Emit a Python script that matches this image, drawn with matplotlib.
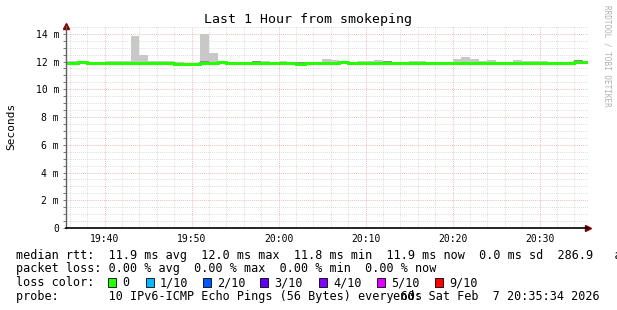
import numpy as np
import matplotlib
matplotlib.use("Agg")
import matplotlib.pyplot as plt
from matplotlib.patches import Rectangle

plt.rcParams['font.family'] = ['DejaVu Sans Mono']

# one bar per minute, 19:35 .. 20:35 (values in ms)
minutes = np.arange(19 * 60 + 35, 20 * 60 + 36)
median = [11.92, 11.93, 11.97, 11.90, 11.90, 11.90, 11.90, 11.90, 11.92, 11.92,
          11.92, 11.92, 11.90, 11.80, 11.85, 11.85, 11.92, 11.93, 11.95, 11.93,
          11.93, 11.92, 11.92, 11.93, 11.90, 11.92, 11.93, 11.85, 11.88, 11.90,
          11.92, 11.93, 11.95, 11.92, 11.90, 11.90, 11.92, 11.92, 11.93, 11.92,
          11.90, 11.92, 11.93, 11.92, 11.90, 11.90, 11.90, 11.92, 11.92, 11.92,
          11.93, 11.93, 11.92, 11.92, 11.90, 11.88, 11.90, 11.92, 11.93, 11.95,
          11.95]
smoke_hi = [12.07, 12.07, 12.00, 12.00, 11.95, 12.07, 12.07, 12.07, 13.85, 12.50,
            12.07, 12.07, 12.05, 11.95, 11.92, 11.92, 14.00, 12.60, 12.00, 11.98,
            11.98, 11.98, 12.07, 12.03, 11.98, 12.07, 11.98, 11.95, 11.98, 11.98,
            12.20, 12.13, 11.98, 11.98, 12.07, 12.07, 12.13, 12.07, 11.98, 11.98,
            12.07, 12.07, 11.98, 11.98, 12.00, 12.20, 12.36, 12.20, 12.07, 12.13,
            11.98, 11.98, 12.13, 12.07, 12.07, 12.05, 11.98, 11.98, 12.00, 12.13,
            12.00]
smoke_lo = [11.88, 11.88, 11.90, 11.85, 11.88, 11.82, 11.88, 11.88, 11.88, 11.88,
            11.88, 11.88, 11.85, 11.70, 11.75, 11.70, 11.88, 11.88, 11.90, 11.90,
            11.90, 11.88, 11.88, 11.88, 11.88, 11.88, 11.90, 11.80, 11.85, 11.85,
            11.88, 11.88, 11.90, 11.82, 11.82, 11.85, 11.88, 11.88, 11.90, 11.88,
            11.88, 11.88, 11.90, 11.88, 11.85, 11.85, 11.82, 11.88, 11.88, 11.88,
            11.90, 11.90, 11.88, 11.88, 11.88, 11.80, 11.72, 11.88, 11.88, 11.90,
            11.90]
dark_hi = [11.95, 11.95, 11.97, 11.92, 11.92, 11.92, 11.92, 11.92, 11.95, 11.95,
           11.95, 11.95, 12.00, 11.90, 11.88, 11.88, 12.07, 11.97, 11.97, 11.95,
           11.95, 11.95, 12.07, 11.95, 11.92, 11.95, 11.95, 11.97, 11.95, 11.95,
           11.95, 11.95, 11.97, 11.95, 11.95, 11.97, 11.95, 12.07, 11.95, 11.95,
           11.95, 11.95, 11.95, 11.95, 12.00, 11.95, 11.92, 11.95, 11.95, 11.95,
           11.95, 11.95, 11.95, 11.95, 11.92, 11.92, 11.92, 11.95, 11.95, 12.13,
           11.97]
dark_lo = [11.90, 11.90, 11.93, 11.87, 11.88, 11.82, 11.88, 11.88, 11.90, 11.90,
           11.90, 11.90, 11.85, 11.72, 11.80, 11.80, 11.90, 11.90, 11.92, 11.91,
           11.91, 11.90, 11.90, 11.90, 11.88, 11.90, 11.91, 11.80, 11.86, 11.87,
           11.85, 11.90, 11.92, 11.88, 11.82, 11.87, 11.90, 11.90, 11.91, 11.90,
           11.88, 11.90, 11.91, 11.90, 11.85, 11.87, 11.82, 11.90, 11.90, 11.90,
           11.91, 11.91, 11.90, 11.90, 11.88, 11.80, 11.86, 11.90, 11.91, 11.92,
           11.92]

yticks = [0, 2, 4, 6, 8, 10, 12, 14]
ytick_labels = ["0", "2 m", "4 m", "6 m", "8 m", "10 m", "12 m", "14 m"]
xticks = [19 * 60 + 40, 19 * 60 + 50, 20 * 60, 20 * 60 + 10, 20 * 60 + 20, 20 * 60 + 30]
xtick_labels = ["19:40", "19:50", "20:00", "20:10", "20:20", "20:30"]

loss_labels = ["0", "1/10", "2/10", "3/10", "4/10", "5/10", "9/10"]
loss_colors = ["#26ff00", "#00b8ff", "#0059ff", "#5e00ff", "#7e00ff", "#dd00ff", "#ff0000"]

W, H = 617, 310
fig = plt.figure(figsize=(W / 100, H / 100), dpi=100)
fig.patch.set_facecolor("white")
ax = fig.add_axes([66 / W, 1 - 228 / H, (588 - 66) / W, (228 - 25.5) / H])

t_end = 20 * 60 + 35 + 34 / 60
ax.set_xlim(t_end - 60, t_end)
ax.set_ylim(0, 14.6)

# grid
ax.set_yticks(np.arange(0, 14.6, 0.5), minor=True)
ax.set_xticks(np.arange(19 * 60 + 36, 20 * 60 + 36, 2), minor=True)
ax.set_yticks(yticks)
ax.set_yticklabels(ytick_labels)
ax.set_xticks(xticks)
ax.set_xticklabels(xtick_labels)
ax.grid(which="minor", color="#d0d0d0", linestyle=(0, (1, 1.5)), linewidth=0.6)
ax.grid(which="major", color="#f0a0a0", linestyle=(0, (1, 1.5)), linewidth=0.6)
ax.set_axisbelow(True)

# smoke
lo = np.array(smoke_lo)
hi = np.array(smoke_hi)
ax.bar(minutes, hi - lo, bottom=lo, width=1.0, align="edge", color="#c8c8c8", linewidth=0)
dlo = np.array(dark_lo)
dhi = np.array(dark_hi)
ax.bar(minutes, dhi - dlo, bottom=dlo, width=1.0, align="edge", color="#8c8c8c", linewidth=0)

# median
edges = np.append(minutes, minutes[-1] + 1)
ax.stairs(median, edges, baseline=None, color="#26ff00", linewidth=2.2)

for s in ["top", "right"]:
    ax.spines[s].set_visible(False)
ax.spines["left"].set_color("#606060")
ax.spines["bottom"].set_color("black")
ax.spines["bottom"].set_linewidth(1.2)
ax.spines["left"].set_linewidth(1.0)
ax.tick_params(which="both", length=2, width=0.6, color="#606060", labelsize=7, pad=3)
ax.tick_params(axis="x", which="both", length=0, pad=4)
ax.plot([1.0], [0], marker=">", color="#800000", markersize=4, transform=ax.transAxes, clip_on=False)
ax.plot([0], [1.0], marker="^", color="#800000", markersize=4, transform=ax.transAxes, clip_on=False)

fig.text(308 / W, 1 - 20 / H, "Last 1 Hour from smokeping", ha="center", va="center", fontsize=9.5)
fig.text(11 / W, 1 - 126 / H, "Seconds", ha="center", va="center", rotation=90, fontsize=8)
fig.text(607 / W, 1 - 5 / H, "RRDTOOL / TOBI OETIKER", ha="center", va="top", rotation=270,
         fontsize=5.5, color="#b0b0b0")

fs = 8.5
x0 = 16 / W
fig.text(x0, 1 - 255 / H, "median rtt:  11.9 ms avg  12.0 ms max  11.8 ms min  11.9 ms now  0.0 ms sd  286.9   am/s",
         va="center", fontsize=fs)
fig.text(x0, 1 - 268.5 / H, "packet loss: 0.00 % avg  0.00 % max  0.00 % min  0.00 % now",
         va="center", fontsize=fs)
fig.text(x0, 1 - 282.5 / H, "loss color:", va="center", fontsize=fs)
box_x = [108, 146, 203, 260, 319, 377, 435]
for bx, lab, col in zip(box_x, loss_labels, loss_colors):
    fig.patches.append(Rectangle((bx / W, 1 - 287 / H), 8 / W, 9 / H, transform=fig.transFigure,
                                 facecolor=col, edgecolor="black", linewidth=0.6))
    fig.text((bx + 14) / W, 1 - 282.5 / H, lab, va="center", fontsize=fs)
fig.text(x0, 1 - 296.5 / H, "probe:       10 IPv6-ICMP Echo Pings (56 Bytes) every 60s",
         va="center", fontsize=fs)
fig.text(600 / W, 1 - 296.5 / H, "end: Sat Feb  7 20:35:34 2026", ha="right", va="center", fontsize=fs)

fig.savefig("out.png", dpi=100)
